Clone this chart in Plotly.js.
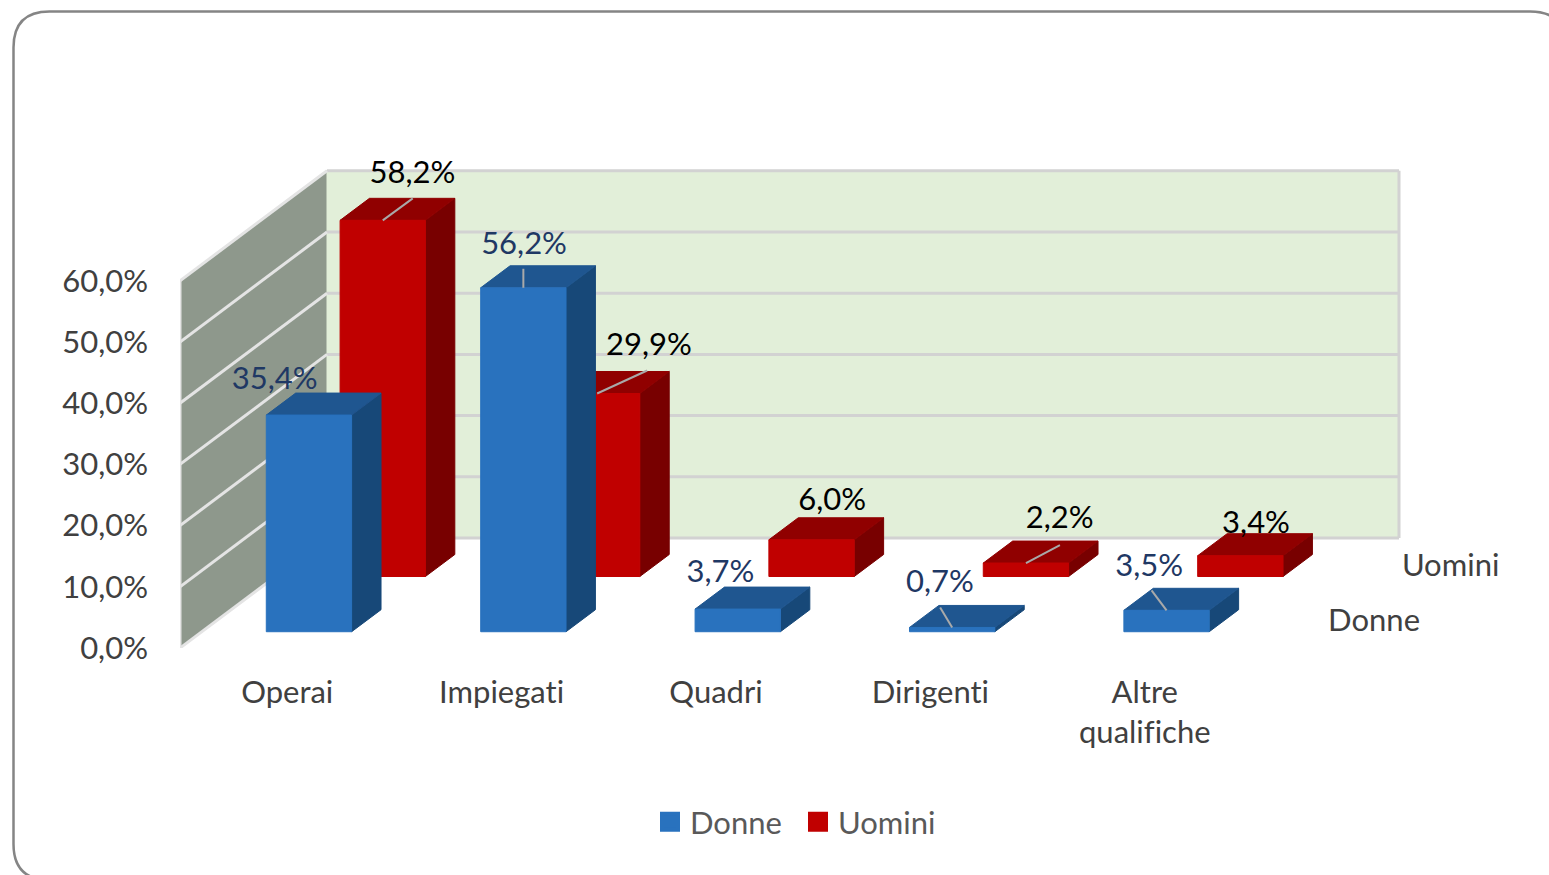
<!DOCTYPE html>
<html>
<head>
<meta charset="utf-8">
<script src="https://cdn.plot.ly/plotly-3.0.1.min.js"></script>
<style>
html,body{margin:0;padding:0;background:#fff;overflow:hidden}
svg text{font-variant-ligatures:none;font-feature-settings:"liga" 0}
</style>
</head>
<body>
<div id="chart" style="width:1549px;height:875px"></div>
<script>
// ---- data ----
const categories = ['Operai', 'Impiegati', 'Quadri', 'Dirigenti', 'Altre<br>qualifiche'];
const donne = [35.4, 56.2, 3.7, 0.7, 3.5];
const uomini = [58.2, 29.9, 6.0, 2.2, 3.4];
const yTicks = [0, 10, 20, 30, 40, 50, 60];
const seriesNames = ['Donne', 'Uomini'];

// ---- styling / label placement (pixels relative to the bar) ----
const donneLabelShift = [[-49,-26],[-14,-34],[-32,-27],[-27,-35],[-32,-34]];
const uominiLabelShift = [[15,-37],[37,-38],[6,-30],[19,-34.5],[1,-22]];
const donneLeader = [null,[0,-19],null,[-12,-20],[-15,-20]];
const uominiLeader = [[30,-22],[50,-23],null,[34,-18],null];
const donneColors = {front:'#2972BE', top:'#1F5690', side:'#174878', label:'#1F3864'};
const uominiColors = {front:'#C00000', top:'#900000', side:'#780000', label:'#000000'};
const FONT = 'Lato, "Open Sans", sans-serif';
const FS = 31;
const textDrop = 3; // px, vertical centring of the text traces

// ---- oblique projection onto the cartesian axes ----
const W = 1549, H = 875, L = 180, B = 648, T = 100;
const pxPerCat = 214.4, pxPerVal = 6.12;
const cat0px = 287.2;
const xRange = [(L - cat0px) / pxPerCat, (W - cat0px) / pxPerCat];
const yRange = [0, (B - T) / pxPerVal];
const depthX = 147 / pxPerCat, depthY = 110 / pxPerVal;
const barW = 0.398, barD = 0.2;
const rowFront = [0.148, 0.65];
const dx = p => p / pxPerCat, dy = p => -p / pxPerVal;
const proj = (c, v, d) => [c + d * depthX, v + d * depthY];

function polys(list) {
  const x = [], y = [];
  list.forEach(poly => {
    poly.forEach(p => { x.push(p[0]); y.push(p[1]); });
    x.push(poly[0][0]); y.push(poly[0][1]);
    x.push(null); y.push(null);
  });
  return {x, y};
}
function face(list, color) {
  const g = polys(list);
  return {type:'scatter', mode:'lines', x:g.x, y:g.y, fill:'toself', fillcolor:color,
    line:{width:1, color:color}, hoverinfo:'skip', showlegend:false};
}
function lines(list, color, width) {
  const x = [], y = [];
  list.forEach(l => { l.forEach(p => { x.push(p[0]); y.push(p[1]); }); x.push(null); y.push(null); });
  return {type:'scatter', mode:'lines', x, y, line:{color, width}, hoverinfo:'skip', showlegend:false};
}
function seriesFaces(vals, row, col) {
  const d0 = rowFront[row], d1 = d0 + barD;
  const fr = [], tp = [], sd = [];
  vals.forEach((v, i) => {
    const a = i - barW / 2, b = i + barW / 2;
    fr.push([proj(a,0,d0), proj(b,0,d0), proj(b,v,d0), proj(a,v,d0)]);
    tp.push([proj(a,v,d0), proj(b,v,d0), proj(b,v,d1), proj(a,v,d1)]);
    sd.push([proj(b,0,d0), proj(b,0,d1), proj(b,v,d1), proj(b,v,d0)]);
  });
  return [face(sd, col.side), face(tp, col.top), face(fr, col.front)];
}
function seriesLeaders(vals, row, shifts) {
  const d0 = rowFront[row], segs = [];
  vals.forEach((v, i) => {
    if (!shifts[i]) return;
    const s = proj(i, v, d0);
    segs.push([s, [s[0] + dx(shifts[i][0]), s[1] + dy(shifts[i][1])]]);
  });
  return lines(segs, '#A9A9A9', 2);
}
function seriesLabels(vals, row, shifts, color) {
  const dm = rowFront[row] + barD / 2;
  const xs = [], ys = [];
  vals.forEach((v, i) => {
    const s = proj(i, v, dm);
    xs.push(s[0] + dx(shifts[i][0]));
    ys.push(s[1] + dy(shifts[i][1] + textDrop));
  });
  return {type:'scatter', mode:'text', x:xs, y:ys,
    text: vals.map(v => v.toFixed(1).replace('.', ',') + '%'),
    textposition:'middle center', textfont:{family:FONT, size:FS, color},
    cliponaxis:false, hoverinfo:'skip', showlegend:false};
}

const xL = -0.5, xR = 4.5, vMax = 60;
const sideWall = face([[proj(xL,0,0), proj(xL,0,1), proj(xL,vMax,1), proj(xL,vMax,0)]], '#8E988C');
const backWall = face([[proj(xL,0,1), proj(xR,0,1), proj(xR,vMax,1), proj(xL,vMax,1)]], '#E2EFD9');
const backGrid = lines(
  yTicks.map(v => [proj(xL,v,1), proj(xR,v,1)]).concat([[proj(xR,0,1), proj(xR,vMax,1)]]),
  '#D2D2D2', 3);
const sideGrid = lines(
  yTicks.map(v => [proj(xL,v,0), proj(xL,v,1)]).concat([[proj(xL,0,0), proj(xL,vMax,0)]]),
  '#E4E4E4', 3);

const depthLabels = {type:'scatter', mode:'text',
  x: rowFront.map(d => proj(xR, 0, d + barD / 2)[0] + 0.185),
  y: rowFront.map(d => proj(xR, 0, d + barD / 2)[1] + dy(textDrop)),
  text: seriesNames, textposition:'middle right',
  textfont:{family:FONT, size:FS, color:'#404040'},
  cliponaxis:false, hoverinfo:'skip', showlegend:false};

const legendKeys = [donneColors, uominiColors].map((c, i) => ({
  type:'scatter', mode:'markers', x:[null], y:[null], name:seriesNames[i],
  marker:{symbol:'square', size:16, color:c.front, line:{color:c.front, width:4}},
  hoverinfo:'skip', showlegend:true
}));

const traces = [
  ...legendKeys,
  sideWall, backWall, backGrid, sideGrid,
  ...seriesFaces(uomini, 1, uominiColors),
  ...seriesFaces(donne, 0, donneColors),
  seriesLeaders(uomini, 1, uominiLeader),
  seriesLeaders(donne, 0, donneLeader),
  seriesLabels(uomini, 1, uominiLabelShift, uominiColors.label),
  seriesLabels(donne, 0, donneLabelShift, donneColors.label),
  depthLabels
];

// rounded frame, running off the right and bottom of the page
const px = p => (p - L) / (W - L), py = p => (B - p) / (B - T);
const fl = 13.5, ft = 11.5, fr = 1566, fb = 880, r = 36;
const pt = (a, b) => px(a) + ',' + py(b);
const framePath = 'M' + pt(fl, fb - r) + ' L' + pt(fl, ft + r) + ' Q' + pt(fl, ft) + ' ' + pt(fl + r, ft) +
  ' L' + pt(fr - r, ft) + ' Q' + pt(fr, ft) + ' ' + pt(fr, ft + r) +
  ' L' + pt(fr, fb - r) + ' Q' + pt(fr, fb) + ' ' + pt(fr - r, fb) +
  ' L' + pt(fl + r, fb) + ' Q' + pt(fl, fb) + ' ' + pt(fl, fb - r) + ' Z';

const layout = {
  width: W, height: H,
  margin: {l: L, r: 0, t: T, b: H - B, autoexpand: false},
  paper_bgcolor: '#fff', plot_bgcolor: 'rgba(0,0,0,0)',
  font: {family: FONT, size: FS, color: '#404040'},
  xaxis: {range: xRange, showgrid:false, zeroline:false, showline:false, ticks:'',
    tickmode:'array', tickvals: categories.map((c, i) => i), ticktext: categories,
    tickangle: 0, ticklabelstandoff: 23, tickfont:{family:FONT, size:FS, color:'#404040'}, fixedrange:true},
  yaxis: {range: yRange, showgrid:false, zeroline:false, showline:false, ticks:'',
    tickmode:'array', tickvals: yTicks, ticktext: yTicks.map(v => v.toFixed(1).replace('.', ',') + '%'),
    ticklabelstandoff: 31, tickfont:{family:FONT, size:FS, color:'#404040'}, fixedrange:true},
  legend: {orientation:'h', x: px(650), xanchor:'left', y: py(822), yanchor:'middle',
    entrywidth: 103, entrywidthmode:'pixels',
    font:{family:FONT, size:FS, color:'#595959'}, bgcolor:'rgba(0,0,0,0)', traceorder:'normal'},
  shapes: [{type:'path', xref:'paper', yref:'paper', path:framePath, layer:'below',
    line:{color:'#858585', width:2.5}, fillcolor:'rgba(0,0,0,0)'}],
  hovermode:false
};
Plotly.newPlot('chart', traces, layout, {displayModeBar:false, responsive:false});
</script>
</body>
</html>
